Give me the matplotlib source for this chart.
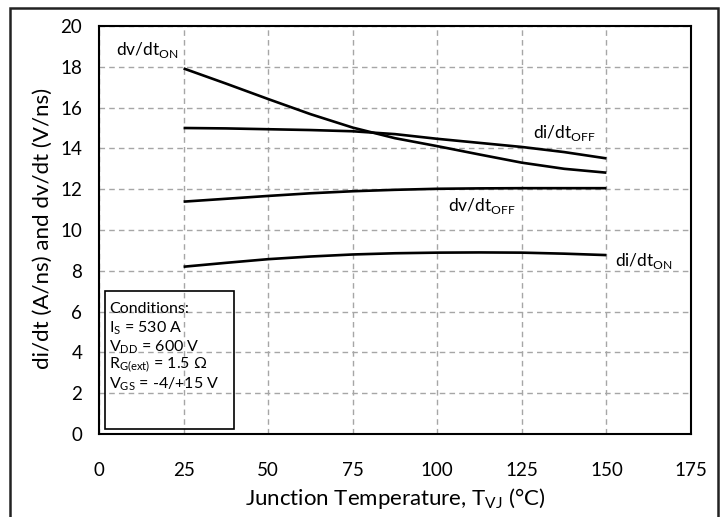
import numpy as np
import matplotlib
matplotlib.use('Agg')
import matplotlib.pyplot as plt
from matplotlib.patches import Rectangle

plt.rcParams['font.family'] = ['Lato', 'DejaVu Sans']
plt.rcParams['mathtext.fontset'] = 'custom'
plt.rcParams['mathtext.rm'] = 'Lato'

# junction temperature (C) and switching speeds
temp = [25, 37.5, 50, 62.5, 75, 87.5, 100, 112.5, 125, 137.5, 150]
dvdt_on = [17.92, 17.18, 16.42, 15.68, 15.02, 14.50, 14.11, 13.70, 13.30, 13.00, 12.81]
didt_off = [15.00, 14.98, 14.94, 14.90, 14.84, 14.70, 14.47, 14.27, 14.07, 13.82, 13.51]
dvdt_off = [11.39, 11.53, 11.67, 11.80, 11.90, 11.97, 12.02, 12.04, 12.05, 12.05, 12.05]
didt_on = [8.20, 8.39, 8.57, 8.70, 8.80, 8.86, 8.89, 8.90, 8.89, 8.84, 8.77]

xticks = [0, 25, 50, 75, 100, 125, 150, 175]
yticks = [0, 2, 4, 6, 8, 10, 12, 14, 16, 18, 20]

fig = plt.figure(figsize=(7.27, 5.17), dpi=100)
ax = fig.add_axes([99/727, 83/517, 592/727, 408/517])

for y in [dvdt_on, didt_off, dvdt_off, didt_on]:
    ax.plot(temp, y, color='black', lw=1.9, solid_capstyle='butt')

ax.set_xlim(0, 175)
ax.set_ylim(0, 20)
ax.set_xticks(xticks)
ax.set_yticks(yticks)
ax.tick_params(length=0, labelsize=13.5)
ax.tick_params(axis='y', pad=12)
ax.tick_params(axis='x', pad=20)
ax.grid(True, color='#a6a6a6', ls=(0, (4, 3)), lw=1)
ax.set_axisbelow(True)
for s in ax.spines.values():
    s.set_linewidth(1.5)

ax.set_xlabel(r'Junction Temperature, T$_{\mathregular{VJ}}$ (°C)', fontsize=16)
ax.set_ylabel('di/dt (A/ns) and dv/dt (V/ns)', fontsize=16)
ax.xaxis.set_label_coords(0.5, -0.128)
ax.yaxis.set_label_coords(-0.078, 0.505)

lab = dict(fontsize=12.5, va='center', ha='left')
ax.text(5, 18.8, r'dv/dt$_{\mathregular{ON}}$', **lab)
ax.text(128.3, 14.75, r'di/dt$_{\mathregular{OFF}}$', **lab)
ax.text(103.2, 11.2, r'dv/dt$_{\mathregular{OFF}}$', **lab)
ax.text(152.5, 8.5, r'di/dt$_{\mathregular{ON}}$', **lab)

# conditions box
ax.add_patch(Rectangle((1.8, 0.25), 38.2, 6.75, fill=False, ec='black', lw=1.2, zorder=5))
cond = ['Conditions:',
        r'I$_{\mathregular{S}}$ = 530 A',
        r'V$_{\mathregular{DD}}$ = 600 V',
        r'R$_{\mathregular{G(ext)}}$ = 1.5 Ω',
        r'V$_{\mathregular{GS}}$ = -4/+15 V']
for i, t in enumerate(cond):
    ax.text(3.0, 6.12 - i * 0.92, t, fontsize=11.5, va='center', ha='left', zorder=6)

# outer frame
fig.add_artist(Rectangle((10/727, -0.02), 708/727, 1.02 - 8/517, transform=fig.transFigure,
                         fill=False, ec='#222222', lw=1.8))

fig.savefig('out.png', dpi=100)
